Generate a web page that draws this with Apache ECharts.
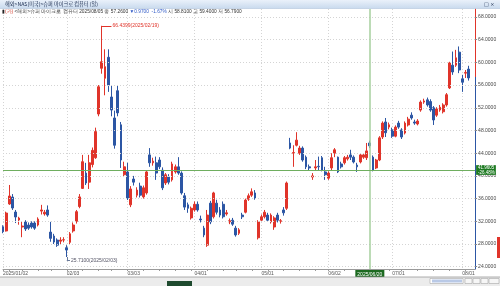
<!DOCTYPE html>
<html><head><meta charset="utf-8">
<script src="https://cdn.jsdelivr.net/npm/echarts@6/dist/echarts.min.js"></script>
<style>html,body{margin:0;padding:0;background:#fff;overflow:hidden}#c{width:500px;height:286px}</style>
</head><body><div id="c"></div>
<script>
// ---- trading days (2025) ----
const janDays = [2,3,6,7,8,10,13,14,15,16,17,21,22,23,24,27,28,29,30,31];
const febDays = [3,4,5,6,7,10,11,12,13,14,18,19,20,21,24,25,26,27,28];
const marDays = [3,4,5,6,7,10,11,12,13,14,17,18,19,20,21,24,25,26,27,28,31];
const aprDays = [1,2,3,4,7,8,9,10,11,14,15,16,17,21,22,23,24,25,28,29,30];
const mayDays = [1,2,5,6,7,8,9,12,13,14,15,16,19,20,21,22,23,27,28,29,30];
const junDays = [2,3,4,5,6,9,10,11,12,13,16,17,18,20,23,24,25,26,27,30];
const julDays = [1,2,3,7,8,9,10,11,14,15,16,17,18,21,22,23,24,25,28,29,30,31];
const augDays = [1,4,5];

// ---- OHLC values ----
const openV = [31.05,30.3,35.05,36.28,33.64,32.23,31.0,31.88,31.35,31.7,31.7,31.35,33.8,33.3,34.0,30.1,29.4,28.7,28.5,28.7,
27.35,28.3,30.3,32.0,34.6,37.8,40.5,38.9,42.0,43.2,50.9,58.96,57.2,60.9,53.9,50.2,55.0,49.0,40.2,
40.7,34.9,39.45,36.6,38.2,36.3,37.0,43.7,42.3,42.3,42.8,41.0,38.75,39.8,39.3,40.7,41.6,40.5,36.5,34.9,32.6,
34.0,35.0,32.4,30.8,27.8,35.2,32.8,35.2,34.0,35.0,33.3,31.9,32.2,30.8,29.9,33.1,33.6,35.9,36.6,37.0,29.1,
32.2,32.8,33.1,31.9,31.0,33.1,32.0,34.0,34.3,45.8,44.0,45.4,44.0,44.9,43.3,41.6,39.8,41.4,41.7,43.2,40.7,
39.6,41.4,44.0,43.3,42.1,42.3,43.0,43.7,43.3,41.9,42.45,43.3,43.2,45.8,43.3,41.4,42.8,46.85,49.5,48.6,
48.1,47.0,49.3,48.1,47.55,48.97,50.7,49.5,49.15,51.6,53.0,53.4,53.1,52.0,50.7,51.6,51.3,52.5,55.5,59.5,59.5,61.8,
57.1,58.1,58.81];
const closeV = [30.17,33.46,36.46,34.34,32.76,32.58,31.17,30.65,30.8,31.0,30.8,32.4,34.0,33.6,33.1,29.0,28.35,27.8,28.7,28.75,
26.94,29.8,31.35,33.7,36.3,42.5,38.75,42.3,44.5,47.8,55.7,60.1,59.24,56.0,51.6,45.4,51.1,42.8,41.6,
36.1,37.7,38.9,37.5,36.6,37.9,40.7,42.3,42.6,40.5,41.6,37.9,40.2,38.9,42.1,41.6,40.5,37.0,34.5,34.3,34.3,
35.0,34.0,32.25,29.6,33.1,31.9,37.0,33.6,33.1,32.8,33.5,32.1,31.5,29.6,30.5,32.8,35.75,36.5,37.2,36.1,31.9,
32.8,33.6,32.2,33.1,32.6,32.2,32.1,33.5,38.75,44.9,44.1,46.3,44.9,42.8,41.6,41.4,40.0,41.6,41.6,41.0,40.2,
40.5,43.2,44.6,40.7,41.6,43.2,43.3,43.3,42.45,41.6,43.7,43.7,44.4,45.3,41.0,42.8,46.7,49.3,47.6,49.0,
47.0,48.6,48.6,46.85,49.3,50.0,50.2,49.3,49.67,53.0,53.2,52.5,51.6,49.85,51.8,52.1,52.5,54.3,59.9,58.3,60.8,58.66,
56.5,58.23,57.26];
const lowV = [29.9,30.2,34.9,34.0,31.7,31.4,29.2,30.3,30.5,30.7,30.5,31.1,33.2,33.0,32.8,28.4,28.0,27.5,28.0,28.3,
25.71,28.0,30.0,31.6,34.3,37.7,38.4,37.7,41.5,43.0,50.5,58.0,54.2,54.8,50.5,44.8,50.5,41.4,39.8,
35.75,34.5,38.3,36.2,36.2,36.0,36.7,41.6,41.8,39.3,41.2,37.5,38.4,38.5,39.0,40.4,40.2,36.7,34.0,33.5,32.3,
33.7,33.7,31.8,29.2,27.5,31.5,32.5,33.2,32.7,32.5,33.0,31.5,31.2,29.3,29.6,32.4,33.4,35.6,36.3,35.8,28.8,
31.9,32.5,31.9,31.6,30.5,31.8,31.6,33.0,34.0,44.7,41.6,45.2,43.7,42.5,41.2,41.0,39.3,41.0,41.0,40.8,39.3,
39.3,41.0,43.3,40.5,41.3,42.0,42.7,42.8,42.2,40.7,42.2,43.0,42.8,44.9,40.8,41.2,42.6,46.5,46.85,48.2,
46.7,46.8,48.3,46.5,47.3,48.7,49.9,49.0,48.9,51.3,52.7,52.2,51.3,48.97,50.4,51.3,51.0,52.2,55.3,57.8,59.2,58.1,
54.8,57.25,56.79];
const highV = [31.3,33.7,38.4,36.8,34.0,32.8,31.9,32.2,31.8,32.0,32.0,32.7,34.9,34.0,34.8,31.9,29.8,29.0,29.2,29.2,
27.8,30.1,31.8,34.0,36.8,43.7,42.3,43.7,45.0,48.5,56.0,66.4399,62.3,62.3,56.0,51.5,56.0,49.5,42.5,
42.3,38.2,40.0,38.0,38.8,38.3,41.0,44.9,43.2,43.4,43.3,41.5,40.5,40.3,42.5,42.0,43.3,40.8,37.0,35.3,34.6,
35.5,35.5,33.0,31.2,34.0,35.6,37.2,35.8,34.5,35.5,34.0,32.5,32.6,31.2,30.8,33.5,36.0,36.9,37.8,37.5,32.2,
33.2,34.0,33.5,33.4,32.9,33.5,32.4,34.5,39.0,46.7,45.4,47.7,45.3,45.2,43.6,42.0,40.5,42.8,43.4,43.5,41.6,
40.8,44.0,44.9,43.4,42.5,43.5,43.7,44.6,43.6,42.3,44.0,44.0,45.8,46.2,43.6,43.0,47.0,49.6,50.2,49.4,
48.5,48.9,49.7,48.4,49.6,50.4,51.2,49.9,50.0,53.3,53.6,53.8,53.5,52.3,52.1,52.5,52.8,54.6,60.1,61.9,62.2,62.8,
57.8,58.66,59.40];

const yTicks = [24,28,32,36,40,44,48,52,56,60,64,68];
const crossDate = '2025/06/20';
const crossValue = 41.04;
const crossText = ['41.9605','-26.48%'];

const RED = '#e0342a', BLUE = '#2c56a4';

// ---- build ----
const months = [janDays,febDays,marDays,aprDays,mayDays,junDays,julDays,augDays];
const cats = [];
months.forEach((days, m) => days.forEach(d => cats.push('2025/' + String(m+1).padStart(2,'0') + '/' + String(d).padStart(2,'0'))));
const N = cats.length;
const xCats = cats.concat(['pad1','pad2']);
const candles = cats.map((c,i) => [openV[i], closeV[i], lowV[i], highV[i]]);
const monthStart = new Set();
const weekStart = new Set();
const dow = s => { const p = s.split('/'); return new Date(+p[0], +p[1]-1, +p[2]).getDay(); };
cats.forEach((c,i) => {
  if (i === 0 || c.slice(5,7) !== cats[i-1].slice(5,7)) monthStart.add(i);
  if (i === 0 || dow(c) < dow(cats[i-1])) weekStart.add(i);
});

const last = N - 1;
const lastClose = closeV[last], prevClose = closeV[last-1];
const chg = lastClose - prevClose, pct = chg / prevClose * 100;
let hiIdx = 0, loIdx = 0;
highV.forEach((v,i) => { if (v > highV[hiIdx]) hiIdx = i; });
lowV.forEach((v,i) => { if (v < lowV[loIdx]) loIdx = i; });
const yMin = 23.6, yMax = 69.4;
const f = (yMax - lastClose) / (yMax - yMin);

const chart = echarts.init(document.getElementById('c'), null, {renderer:'canvas', width:500, height:286});
const FONT = 'Liberation Sans, Noto Sans CJK KR, sans-serif';
const loLead = lowV[loIdx] - 0.65;
const GRIDC = '#d4d4d4';

chart.setOption({
  animation: false,
  backgroundColor: '#ffffff',
  textStyle: {fontFamily: FONT},
  grid: {left: 3, right: 24.9, top: 9, bottom: 17, containLabel: false},
  xAxis: {
    type: 'category', data: xCats, boundaryGap: false,
    axisLine: {show: true, lineStyle: {color: '#9a9a9a', width: 1}},
    axisTick: {show: true, length: 2, interval: (i) => weekStart.has(i), lineStyle: {color: '#9a9a9a'}},
    axisLabel: {show: true, interval: (i) => monthStart.has(i), align: 'left', fontSize: 5, color: '#555', margin: 2.5,
      formatter: (v, i) => i === 0 ? v : v.slice(5)},
    splitLine: {show: true, interval: (i) => monthStart.has(i), lineStyle: {type: [1,2], color: GRIDC, width: 1}}
  },
  yAxis: {
    type: 'value', position: 'right', min: yMin, max: yMax, scale: true,
    axisLine: {show: true, lineStyle: {width: 1, color: new echarts.graphic.LinearGradient(0,0,0,1,[
      {offset:0,color:RED},{offset:f,color:RED},{offset:f,color:BLUE},{offset:1,color:BLUE}])}},
    axisTick: {show: true, length: 2, customValues: yTicks, lineStyle: {color: '#888'}},
    axisLabel: {show: true, customValues: yTicks, fontSize: 5, color: '#444', margin: 3, formatter: v => v.toFixed(4)},
    splitLine: {show: false}
  },
  series: [
    {
      type: 'line', name: 'grid', data: [], silent: true, z: 0,
      markLine: {silent: true, symbol: 'none', animation: false, label: {show: false},
        lineStyle: {type: [1,2], color: GRIDC, width: 1},
        data: yTicks.map(v => ({yAxis: v}))}
    },
    {
      type: 'candlestick', name: 'price', data: candles, barWidth: 2.3, clip: false, z: 2,
      itemStyle: {color: RED, color0: BLUE, borderColor: RED, borderColor0: BLUE, borderWidth: 1},
      markLine: {
        silent: true, symbol: 'none', animation: false, precision: 4,
        data: [
          {xAxis: crossDate, lineStyle: {color: '#a6cf9e', width: 1.5, type: 'solid'},
           label: {show: true, position: 'start', formatter: crossDate, backgroundColor: '#1d6b21', color: '#fff', fontSize: 5, padding: [2,2,1,2], distance: 1}},
          {yAxis: crossValue, lineStyle: {color: '#6fae5f', width: 1, type: 'solid'},
           label: {show: true, position: 'end', formatter: crossText.join('\n'), backgroundColor: '#1d7a21', color: '#fff', fontSize: 4.5, lineHeight: 4.6, padding: [0.5,1,0,2], distance: 1}},
          {yAxis: lastClose, lineStyle: {opacity: 0},
           label: {show: true, position: 'end', formatter: lastClose.toFixed(4) + '\n' + pct.toFixed(2) + '%', backgroundColor: '#2a4c9a', color: '#fff', fontSize: 4.5, lineHeight: 4.6, padding: [0.5,1,0,2], distance: 1}},
          [{coord: [cats[hiIdx], highV[hiIdx]], lineStyle: {color: RED, width: 1, type: 'solid'},
            label: {show: true, position: 'end', formatter: highV[hiIdx].toFixed(4) + '(' + cats[hiIdx] + ')', color: RED, fontSize: 5, distance: 1}},
           {coord: [cats[hiIdx+3], highV[hiIdx]]}],
          [{coord: [cats[loIdx], lowV[loIdx]], lineStyle: {color: '#6a7a9a', width: 1, type: 'solid'}, label: {show: false}},
           {coord: [cats[loIdx], loLead]}],
          [{coord: [cats[loIdx], loLead], lineStyle: {color: '#6a7a9a', width: 1, type: 'solid'},
            label: {show: true, position: 'end', formatter: lowV[loIdx].toFixed(4) + '(' + cats[loIdx] + ')', color: '#556', fontSize: 5, distance: 1}},
           {coord: [cats[loIdx+1], loLead]}]
        ]
      }
    }
  ],
  graphic: [
    {type: 'rect', shape: {x: 0, y: 0, width: 500, height: 8.5}, style: {fill: new echarts.graphic.LinearGradient(0,0,0,1,[{offset:0,color:'#eaf1fa'},{offset:1,color:'#c9daee'}])}, z: 10},
    {type: 'line', shape: {x1: 0, y1: 8.5, x2: 500, y2: 8.5}, style: {stroke: '#a9bdd6', lineWidth: 0.5}, z: 10},
    {type: 'text', x: 5, y: 4.5, z: 11, style: {text: '해외>NAS(미국)>슈퍼 마이크로 컴퓨터 (일)', fontSize: 5.2, fontFamily: 'Noto Sans CJK KR', fill: '#223355', verticalAlign: 'middle'}},
    {type: 'text', x: 484, y: 4.5, z: 11, style: {text: '□ ×', fontSize: 5, fontFamily: 'DejaVu Sans', fill: '#223355', verticalAlign: 'middle'}},
    {type: 'text', x: 2, y: 11.7, z: 11, style: {
      text: '{k|▮}{r|(카)}{d| <해외>슈퍼 마이크로 컴퓨터 ' + cats[last] + ' 종 ' + lastClose.toFixed(4) + ' }{b|' + (chg < 0 ? '▼' : '▲') + Math.abs(chg).toFixed(4) + '  ' + pct.toFixed(2) + '%}{d| 시 ' + openV[last].toFixed(4) + ' 고 ' + highV[last].toFixed(4) + ' 저 ' + lowV[last].toFixed(4) + '}',
      fontSize: 4.8, fontFamily: 'Noto Sans CJK KR', verticalAlign: 'middle',
      rich: {k: {fill: '#222', fontSize: 4.8}, r: {fill: '#d23a2a', fontSize: 4.8}, d: {fill: '#333', fontSize: 4.8}, b: {fill: '#2e58c6', fontSize: 4.8}}}},
    {type: 'rect', shape: {x: 497, y: 237, width: 3, height: 21}, style: {fill: RED}, z: 5},
    {type: 'rect', shape: {x: 0, y: 277, width: 500, height: 9}, style: {fill: '#ececec'}, z: 10},
    {type: 'line', shape: {x1: 0, y1: 277, x2: 500, y2: 277}, style: {stroke: '#9a9a9a', lineWidth: 0.8}, z: 10},
    {type: 'rect', shape: {x: 167, y: 281, width: 25, height: 5}, style: {fill: '#1e4a2e'}, z: 11},
    {type: 'rect', shape: {x: 430, y: 278.5, width: 33, height: 5}, style: {fill: '#fff', stroke: '#999', lineWidth: 0.5}, z: 11},
    {type: 'rect', shape: {x: 432, y: 279.5, width: 30, height: 3}, style: {fill: '#b9c9e6'}, z: 12},
    {type: 'rect', shape: {x: 465, y: 278.5, width: 7, height: 5}, style: {fill: '#f6f6f6', stroke: '#999', lineWidth: 0.5}, z: 11},
    {type: 'rect', shape: {x: 473, y: 278.5, width: 7, height: 5}, style: {fill: '#f6f6f6', stroke: '#999', lineWidth: 0.5}, z: 11},
    {type: 'rect', shape: {x: 481, y: 278.5, width: 7, height: 5}, style: {fill: '#f6f6f6', stroke: '#999', lineWidth: 0.5}, z: 11},
    {type: 'rect', shape: {x: 489, y: 278.5, width: 10, height: 5}, style: {fill: '#f6f6f6', stroke: '#999', lineWidth: 0.5}, z: 11}
  ]
});
</script>
</body></html>
